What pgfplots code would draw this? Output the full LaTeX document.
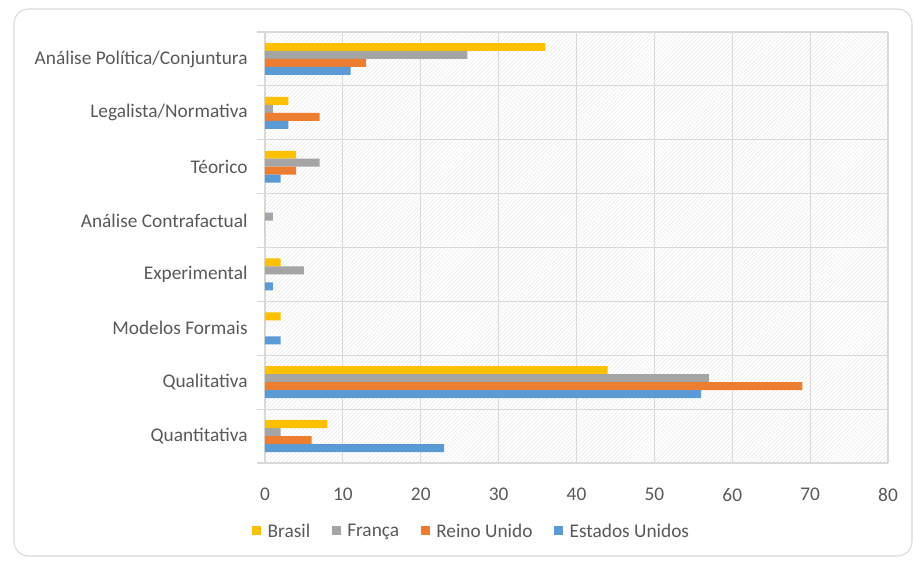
\documentclass[border=0pt]{standalone}
\usepackage{fontspec}
\setmainfont{Carlito}
\usepackage{pgfplots}
\pgfplotsset{compat=1.18}
\usetikzlibrary{patterns.meta}

\definecolor{cBR}{HTML}{FFC000}
\definecolor{cFR}{HTML}{A5A5A5}
\definecolor{cUK}{HTML}{ED7D31}
\definecolor{cUS}{HTML}{5B9BD5}
\definecolor{gridc}{HTML}{D9D9D9}
\definecolor{hatch}{HTML}{E8E8E8}
\definecolor{txt}{HTML}{595959}

\begin{document}
\fontsize{14.5}{17}\selectfont
\begin{tikzpicture}[x=0.75pt,y=0.75pt]
\useasboundingbox (0,0) rectangle (915,562);
\draw[gridc, line width=0.8pt, rounded corners=11pt] (14,6) rectangle (912,553);
\begin{axis}[
  at={(198.75pt,74.25pt)}, anchor=south west, scale only axis,
  width=467.25pt, height=323.25pt,
  xbar, bar width=0.148,
  xmin=0, xmax=80, ymin=-0.5, ymax=7.5,
  xtick={0,10,...,80},
  ytick={0,...,7},
  yticklabels={Quantitativa,Qualitativa,Modelos Formais,Experimental,Análise Contrafactual,Téorico,Legalista/Normativa,Análise Política/Conjuntura},
  minor ytick={-0.5,0.5,...,7.5},
  tick pos=left, tick align=outside,
  major tick length=0pt, minor tick length=6pt,
  minor tick style={gridc, line width=0.9pt},
  axis line style={draw=none},
  xmajorgrids, yminorgrids,
  major grid style={gridc, line width=0.9pt},
  minor grid style={gridc, line width=0.9pt},
  axis background/.style={pattern={Lines[angle=45,distance=2.1pt,line width=0.4pt]}, pattern color=hatch},
  ticklabel style={font=\fontsize{14.5}{17}\selectfont, text=txt},
  /pgf/number format/assume math mode=true,
  xticklabel style={yshift=-14pt},
  yticklabel style={xshift=-8pt},
  legend columns=4,
  legend style={at={(0.332,-0.16)}, anchor=center, draw=none, fill=none,
    font=\fontsize{14.5}{17}\selectfont, text=txt,
    /tikz/every odd column/.append style={column sep=3pt},
    /tikz/every even column/.append style={column sep=14pt}},
  legend image code/.code={\fill[#1] (0pt,-2.6pt) rectangle (6.8pt,4.2pt);},
]
\addplot[fill=cBR, draw=none, bar shift=0.222] coordinates {
  (8,0) (44,1) (2,2) (2,3) (0,4) (4,5) (3,6) (36,7)};
\addplot[fill=cFR, draw=none, bar shift=0.074] coordinates {
  (2,0) (57,1) (0,2) (5,3) (1,4) (7,5) (1,6) (26,7)};
\addplot[fill=cUK, draw=none, bar shift=-0.074] coordinates {
  (6,0) (69,1) (0,2) (0,3) (0,4) (4,5) (7,6) (13,7)};
\addplot[fill=cUS, draw=none, bar shift=-0.222] coordinates {
  (23,0) (56,1) (2,2) (1,3) (0,4) (2,5) (3,6) (11,7)};
\legend{Brasil,França,Reino Unido,Estados Unidos}
\end{axis}
\end{tikzpicture}
\end{document}
